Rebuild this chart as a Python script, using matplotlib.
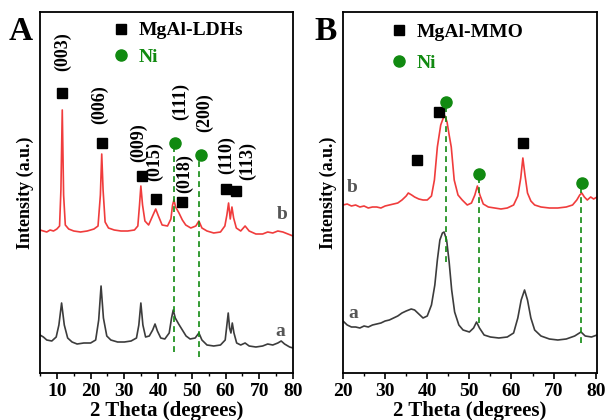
import matplotlib.pyplot as plt
from matplotlib.lines import Line2D

plt.rcParams['font.family'] = ['Liberation Serif', 'DejaVu Serif']
plt.rcParams['font.weight'] = 'bold'

# ---- panel A data (2 theta, intensity a.u.) ----
a_b_x = [5, 6, 7, 8, 9, 10, 10.8, 11.2, 11.6, 12.0, 12.5, 13.5, 15, 17, 19, 21, 22.2, 22.9, 23.3, 23.7,
         24.3, 25.3, 27, 29, 31, 33, 34.0, 34.5, 34.9, 35.4, 36.1, 37.2, 38.5, 39.3, 40.1, 41.2, 42.8,
         43.8, 44.3, 44.7, 45.2, 46.2, 47.2, 48.2, 49.7, 51.2, 52.1, 53.0, 54.5, 56.5, 58.5, 59.8, 60.4,
         60.9, 61.4, 61.9, 62.4, 63.2, 64.5, 65.8, 67, 69, 71, 72.5, 74, 75.5, 77, 78.5, 80]
a_b_y = [143, 142, 141, 143, 142, 144, 147, 183, 263, 178, 148, 144, 142, 141, 142, 144, 147, 178, 219, 183,
         151, 145, 143, 142, 142, 143, 147, 168, 187, 168, 152, 148, 158, 164, 157, 148, 147,
         154, 168, 173, 166, 160, 153, 148, 145, 147, 152, 145, 142, 140, 141, 147, 158,
         170, 154, 166, 155, 145, 142, 147, 142, 139, 139, 141, 140, 142, 141, 139, 137]

a_a_x = [5, 6, 7, 8.5, 9.8, 10.6, 11.4, 12.2, 13.2, 14.5, 16, 18, 20, 21.5, 22.4, 23.1, 23.8, 24.8, 26, 28,
         30, 32, 33.6, 34.3, 34.9, 35.5, 36.3, 37.4, 38.4, 39.1, 39.8, 40.8, 42, 43.3, 44.0, 44.5, 45.1,
         46.1, 47.2, 48.3, 49.5, 51.0, 52.1, 53.0, 54.5, 56.5, 58.5, 59.9, 60.4, 60.8, 61.2, 61.6, 62.0,
         62.5, 63.3, 64.5, 65.8, 67, 69, 71, 72.5, 74, 75.5, 76.5, 77.5, 79, 80]
a_a_y = [38, 36, 33, 32, 36, 48, 70, 48, 35, 31, 29, 30, 30, 33, 53, 87, 55, 37, 33, 31,
         31, 32, 35, 48, 70, 48, 36, 37, 43, 49, 42, 35, 34, 40, 55, 63, 55,
         49, 43, 37, 34, 35, 40, 33, 28, 27, 28, 33, 48, 60, 45, 40, 50,
         40, 30, 28, 30, 27, 26, 27, 29, 28, 30, 32, 29, 26, 25]

a_sq_x = [11.5, 23.4, 35.2, 39.4, 47.1, 60.1, 63.1]
a_sq_y = [280, 230, 197, 174, 171, 184, 182]
a_ni_x = [45.0, 52.7]
a_ni_y = [230, 218]
a_dash_x = [44.6, 52.1]
a_dash_lo = [21, 16]
a_dash_hi = [230, 218]
a_hkl = ['(003)', '(006)', '(009)', '(015)', '(111)', '(018)', '(200)', '(110)', '(113)']
a_hkl_x = [11.8, 22.8, 34.1, 39.1, 46.8, 48.0, 53.9, 60.3, 66.4]
a_hkl_y = [321, 268, 230, 211, 271, 199, 260, 218, 212]

# ---- panel B data ----
b_b_x = [20, 21, 22, 23, 24, 25, 26, 27, 28, 29, 30, 31, 32, 33, 34, 35, 35.5, 36.3, 37, 38, 39, 40, 41,
         41.7, 42.4, 43.2, 43.8, 44.2, 44.7, 45.2, 45.7, 46.4, 47.3, 48.3, 49.5, 50.5, 51.3, 51.9, 52.5,
         53.3, 54.5, 56, 57.5, 59, 60.5, 61.5, 62.2, 62.7, 63.2, 63.8, 64.6, 65.5, 67, 69, 71, 73, 74.5,
         75.5, 76.2, 76.7, 77.3, 78, 78.8, 79.5, 80.3]
b_b_y = [168, 169, 167, 168, 166, 167, 165, 166, 166, 165, 167, 168, 169, 170, 173, 177, 180, 178, 176, 174, 173, 173, 177,
         193, 226, 248, 255, 257, 251, 238, 226, 193, 178, 173, 168, 170, 178, 187, 178,
         169, 166, 165, 164, 165, 168, 177, 195, 215, 198, 180, 172, 168, 166, 165, 165, 166, 168,
         173, 178, 180, 176, 173, 176, 174, 176]

b_a_x = [20, 21, 22, 23, 24, 25, 26, 27, 28, 29, 30, 31, 32, 33, 34, 35, 36.2, 37, 38, 39, 40, 41, 41.8,
         42.4, 43.0, 43.6, 44.0, 44.6, 45.2, 45.8, 46.5, 47.5, 48.5, 50, 51, 51.7, 52.4, 53.5, 55, 57, 59,
         60.5, 61.5, 62.3, 63.1, 63.8, 64.6, 65.5, 67, 69, 71, 73, 75, 76.5, 77.5, 79, 80.3]
b_a_y = [52, 48, 46, 46, 45, 47, 46, 48, 49, 50, 52, 53, 55, 57, 60, 62, 64, 63, 59, 55, 57, 68, 88,
         113, 133, 140, 141, 133, 111, 83, 61, 48, 43, 41, 45, 51, 45, 38, 36, 35, 36,
         40, 55, 73, 83, 73, 55, 43, 37, 34, 33, 34, 37, 41, 37, 36, 38]

b_sq_x = [37.5, 42.7, 62.7]
b_sq_y = [213, 261, 230]
b_ni_x = [44.5, 52.2, 76.7]
b_ni_y = [271, 199, 190]
b_dash_x = [44.5, 52.2, 76.5]
b_dash_lo = [111, 50, 30]
b_dash_hi = [271, 199, 190]

red = '#f03c3c'
dark = '#3c3c3c'
green = '#118a11'

fig = plt.figure(figsize=(6.08, 4.2), dpi=100)
axA = fig.add_axes([40 / 608, 47 / 420, 253 / 608, 361 / 420])
axB = fig.add_axes([343 / 608, 47 / 420, 254 / 608, 361 / 420])


def style(ax, xlim, major, minor):
    ax.set_xlim(*xlim)
    ax.set_ylim(0, 361)
    ax.set_yticks([])
    ax.set_xticks(major)
    ax.set_xticks(minor, minor=True)
    ax.tick_params(axis='x', which='major', direction='out', length=4, width=1.2, labelsize=14, pad=3)
    ax.tick_params(axis='x', which='minor', direction='out', length=2.5, width=1.0)
    for s in ax.spines.values():
        s.set_linewidth(1.3)
    ax.set_xlabel('2 Theta (degrees)', fontsize=15, fontweight='bold', labelpad=1)
    ax.set_ylabel('Intensity (a.u.)', fontsize=13, fontweight='bold', labelpad=4)


# panel A
axA.plot(a_b_x, a_b_y, color=red, lw=1.2)
axA.plot(a_a_x, a_a_y, color=dark, lw=1.2)
axA.vlines(a_dash_x, a_dash_lo, a_dash_hi, colors=green, linestyles=(0, (3.5, 2.5)), lw=1.2)
axA.plot(a_sq_x, a_sq_y, 's', color='black', ms=7)
axA.plot(a_ni_x, a_ni_y, 'o', color=green, ms=8)
for lab, x, y in zip(a_hkl, a_hkl_x, a_hkl_y):
    axA.text(x, y, lab, rotation=90, ha='center', va='center', fontsize=13, fontweight='bold')
axA.text(76.7, 158, 'b', color='#555555', fontsize=14, fontweight='bold', ha='center', va='center')
axA.text(76.2, 42, 'a', color='#555555', fontsize=14, fontweight='bold', ha='center', va='center')
style(axA, (5, 80), [10, 20, 30, 40, 50, 60, 70, 80], [5, 15, 25, 35, 45, 55, 65, 75])

# panel B
axB.plot(b_b_x, b_b_y, color=red, lw=1.2)
axB.plot(b_a_x, b_a_y, color=dark, lw=1.2)
axB.vlines(b_dash_x, b_dash_lo, b_dash_hi, colors=green, linestyles=(0, (3.5, 2.5)), lw=1.2)
axB.plot(b_sq_x, b_sq_y, 's', color='black', ms=7)
axB.plot(b_ni_x, b_ni_y, 'o', color=green, ms=8)
axB.text(22.2, 185, 'b', color='#555555', fontsize=14, fontweight='bold', ha='center', va='center')
axB.text(22.4, 60, 'a', color='#555555', fontsize=14, fontweight='bold', ha='center', va='center')
style(axB, (20, 80.3), [20, 30, 40, 50, 60, 70, 80], [25, 35, 45, 55, 65, 75])

# legends
for ax, name, anchor, spacing in [(axA, 'MgAl-LDHs', (0.242, 1.005), 0.45),
                                  (axB, 'MgAl-MMO', (0.145, 1.0), 0.65)]:
    handles = [Line2D([], [], marker='s', ls='', color='black', ms=7),
               Line2D([], [], marker='o', ls='', color=green, ms=8)]
    leg = ax.legend(handles, [name, 'Ni'], loc='upper left', bbox_to_anchor=anchor, frameon=False,
                    prop={'size': 14, 'weight': 'bold'}, handlelength=0.8, handletextpad=0.5,
                    labelspacing=spacing, borderaxespad=0.2)
    leg.get_texts()[1].set_color(green)

fig.text(9 / 608, 1 - 40 / 420, 'A', fontsize=24, fontweight='bold', va='baseline')
fig.text(314 / 608, 1 - 40 / 420, 'B', fontsize=24, fontweight='bold', va='baseline')

fig.savefig('out.png', dpi=100)
